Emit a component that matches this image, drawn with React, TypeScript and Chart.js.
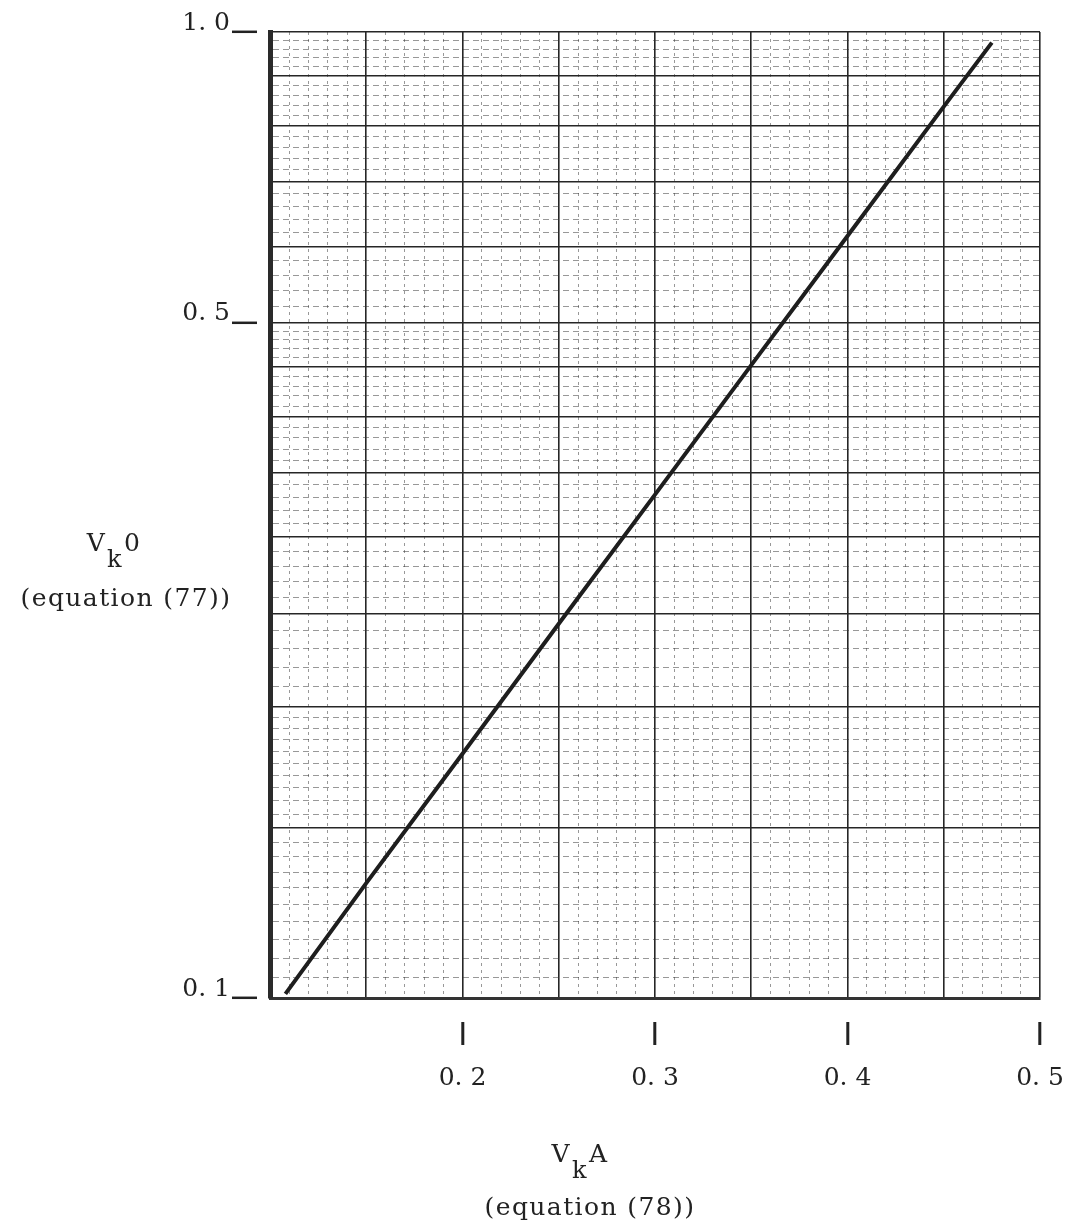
import React, { useEffect, useRef } from "react";
import { Chart, registerables } from "chart.js";

Chart.register(...registerables);

// ---- data (V_k A vs V_k 0) ----
const xValues = [0.108, 0.15, 0.2, 0.25, 0.3, 0.35, 0.4, 0.45, 0.475];
const yValues = [0.101, 0.1315, 0.179, 0.244, 0.332, 0.452, 0.615, 0.837, 0.975];

// ---- axes ----
const xMin = 0.1;
const xMax = 0.5;
const yMin = 0.1;
const yMax = 1.0;
const xTickValues = [0.2, 0.3, 0.4, 0.5];
const xTickLabels = ["0. 2", "0. 3", "0. 4", "0. 5"];
const yTickValues = [0.1, 0.5, 1.0];
const yTickLabels = ["0. 1", "0. 5", "1. 0"];

// ---- graph-paper rulings: [from, to, step] ----
const xRulings = [[0.1, 0.5, 0.01]];
const yRulings = [
  [0.1, 0.2, 0.005],
  [0.2, 0.5, 0.01],
  [0.5, 1.0, 0.02],
];
const xHeavyRulings = [0.1, 0.15, 0.2, 0.25, 0.3, 0.35, 0.4, 0.45, 0.5];
const yHeavyRulings = [0.1, 0.15, 0.2, 0.25, 0.3, 0.35, 0.4, 0.45, 0.5, 0.6, 0.7, 0.8, 0.9, 1.0];

const near = (a: number, b: number) => Math.abs(a - b) < 1e-6;

function ruling(spec: number[][]): number[] {
  const out: number[] = [];
  spec.forEach(([a, b, s]) => {
    const n = Math.round((b - a) / s);
    for (let i = 0; i <= n; i++) {
      const v = Number((a + i * s).toFixed(4));
      if (!out.some((o) => near(o, v))) out.push(v);
    }
  });
  return out.sort((p, q) => p - q);
}

const INK = "#1e1e1e";
const FONT = "'DejaVu Serif', serif";

export default function App() {
  const ref = useRef<HTMLCanvasElement | null>(null);

  useEffect(() => {
    if (!ref.current) return;
    const xGrid = ruling(xRulings);
    const yGrid = ruling(yRulings);

    const isXHeavy = (v: number) => xHeavyRulings.some((h) => near(h, v));
    const isYHeavy = (v: number) => yHeavyRulings.some((h) => near(h, v));
    const isXLabel = (v: number) => xTickValues.some((h) => near(h, v));
    const isYLabel = (v: number) => yTickValues.some((h) => near(h, v));

    const chart = new Chart(ref.current, {
      type: "line",
      data: {
        datasets: [
          {
            data: xValues.map((x, i) => ({ x, y: yValues[i] })),
            borderColor: INK,
            borderWidth: 4,
            pointRadius: 0,
            tension: 0,
            fill: false,
          },
        ],
      },
      options: {
        animation: false,
        responsive: false,
        layout: { padding: { left: 0, top: 32, right: 37, bottom: 0 } },
        plugins: { legend: { display: false }, tooltip: { enabled: false } },
        scales: {
          x: {
            type: "linear",
            min: xMin,
            max: xMax,
            afterBuildTicks: (scale: any) => {
              scale.ticks = xGrid.map((v) => ({ value: v }));
            },
            afterFit: (scale: any) => {
              scale.height = 230;
              scale.paddingLeft = 0;
              scale.paddingRight = 0;
            },
            grid: {
              color: (c: any) =>
                c.tick && isXHeavy(c.tick.value) ? "#262626" : "rgba(50,50,50,0.5)",
              lineWidth: (c: any) => (c.tick && isXHeavy(c.tick.value) ? 1.6 : 1),
              drawTicks: true,
              tickLength: 47,
              tickWidth: 3,
              tickColor: (c: any) =>
                c.tick && isXLabel(c.tick.value) ? "#222" : "rgba(0,0,0,0)",
              tickBorderDash: [0, 22, 25, 400],
            },
            border: {
              display: true,
              color: "#333",
              width: 3,
              dash: (c: any) =>
                c.tick && !isXHeavy(c.tick.value) ? [3, 4] : [],
            },
            ticks: {
              autoSkip: false,
              maxRotation: 0,
              padding: 18,
              color: "#222",
              font: { family: FONT, size: 25 },
              callback: (value: any) => {
                const i = xTickValues.findIndex((v) => near(v, Number(value)));
                return i >= 0 ? xTickLabels[i] : "";
              },
            },
          },
          y: {
            type: "logarithmic",
            min: yMin,
            max: yMax,
            afterBuildTicks: (scale: any) => {
              scale.ticks = yGrid.map((v) => ({ value: v }));
            },
            afterFit: (scale: any) => {
              scale.width = 270;
              scale.paddingTop = 0;
              scale.paddingBottom = 0;
            },
            grid: {
              color: (c: any) =>
                c.tick && isYHeavy(c.tick.value) ? "#262626" : "rgba(50,50,50,0.5)",
              lineWidth: (c: any) => (c.tick && isYHeavy(c.tick.value) ? 1.6 : 1),
              drawTicks: true,
              tickLength: 38,
              tickWidth: 2.5,
              tickColor: (c: any) =>
                c.tick && isYLabel(c.tick.value) ? "#222" : "rgba(0,0,0,0)",
              tickBorderDash: [25, 400],
            },
            border: {
              display: true,
              color: "#2a2a2a",
              width: 5,
              dash: (c: any) =>
                c.tick && !isYHeavy(c.tick.value) ? [6, 4] : [],
            },
            ticks: {
              autoSkip: false,
              padding: 2,
              labelOffset: -9,
              color: "#222",
              font: { family: FONT, size: 25 },
              callback: (value: any) => {
                const i = yTickValues.findIndex((v) => near(v, Number(value)));
                return i >= 0 ? yTickLabels[i] : "";
              },
            },
          },
        },
      },
    } as any);
    return () => chart.destroy();
  }, []);

  const textStyle: React.CSSProperties = {
    position: "absolute",
    fontFamily: FONT,
    fontSize: 25,
    lineHeight: "25px",
    letterSpacing: "1.4px",
    color: "#222",
    whiteSpace: "nowrap",
    transform: "translateX(-50%)",
  };
  const subStyle: React.CSSProperties = {
    position: "relative",
    top: 16,
    fontSize: 24,
    margin: "0 1px",
  };

  return (
    <div
      style={{
        position: "absolute",
        left: 0,
        top: 0,
        width: 1077,
        height: 1228,
        background: "#fff",
        overflow: "hidden",
      }}
    >
      <canvas ref={ref} width={1077} height={1228} style={{ display: "block" }} />
      <div style={{ ...textStyle, left: 114, top: 530 }}>
        V<span style={subStyle}>k</span>0
      </div>
      <div style={{ ...textStyle, left: 126, top: 585 }}>(equation (77))</div>
      <div style={{ ...textStyle, left: 580, top: 1141 }}>
        V<span style={subStyle}>k</span>A
      </div>
      <div style={{ ...textStyle, left: 590, top: 1194 }}>(equation (78))</div>
    </div>
  );
}
